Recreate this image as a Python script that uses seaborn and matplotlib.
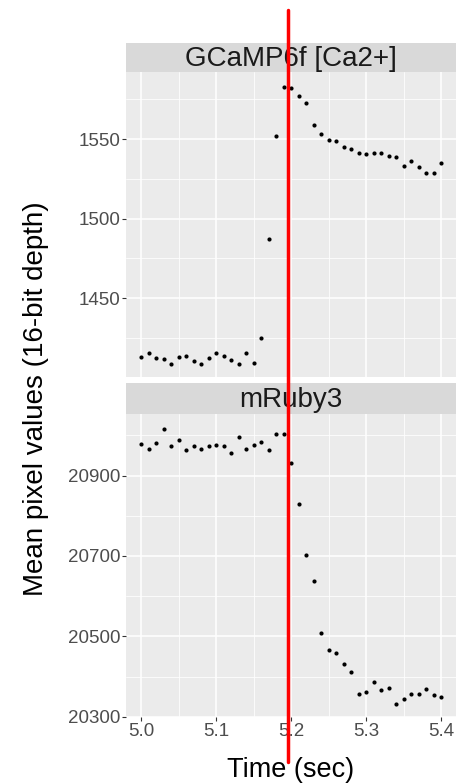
import numpy as np
import pandas as pd
import seaborn as sns
import matplotlib.pyplot as plt
import matplotlib.ticker as mticker
from matplotlib.lines import Line2D
from matplotlib.transforms import blended_transform_factory

# --- data ---
time_sec = [5.00, 5.01, 5.02, 5.03, 5.04, 5.05, 5.06, 5.07, 5.08, 5.09,
            5.10, 5.11, 5.12, 5.13, 5.14, 5.15, 5.16, 5.17, 5.18, 5.19,
            5.20, 5.21, 5.22, 5.23, 5.24, 5.25, 5.26, 5.27, 5.28, 5.29,
            5.30, 5.31, 5.32, 5.33, 5.34, 5.35, 5.36, 5.37, 5.38, 5.39, 5.40]

gcamp = [1413.1, 1415.6, 1412.2, 1411.6, 1408.9, 1413.1, 1413.7, 1410.4, 1408.9, 1412.2,
         1415.6, 1413.9, 1411.4, 1408.9, 1415.6, 1409.5, 1425.3, 1487.5, 1552.1, 1582.9,
         1581.9, 1577.0, 1572.6, 1558.8, 1553.3, 1549.4, 1548.9, 1544.8, 1543.7, 1541.2,
         1540.4, 1541.2, 1541.2, 1539.5, 1538.5, 1532.8, 1536.2, 1532.2, 1528.8, 1528.4, 1535.1]

mruby = [20977.8, 20966.2, 20981.8, 21016.5, 20972.9, 20989.2, 20964.5, 20974.4, 20966.2, 20972.9,
         20976.1, 20974.4, 20955.5, 20995.2, 20966.2, 20976.1, 20984.3, 20963.0, 21004.1, 21004.1,
         20932.2, 20828.1, 20703.4, 20636.5, 20509.3, 20465.4, 20458.7, 20431.5, 20410.9, 20355.6,
         20362.1, 20385.4, 20367.0, 20370.5, 20332.3, 20344.0, 20355.6, 20355.6, 20368.7, 20353.9, 20348.2]

panel_names = ["GCaMP6f [Ca2+]", "mRuby3"]
stim_time = 5.196

x_ticks = [5.0, 5.1, 5.2, 5.3, 5.4]
top_ticks = [1450, 1500, 1550]
bottom_ticks = [20300, 20500, 20700, 20900]

df = pd.DataFrame({
    "Time": time_sec * 2,
    "Value": gcamp + mruby,
    "Channel": [panel_names[0]] * len(gcamp) + [panel_names[1]] * len(mruby),
})

# --- styling ---
sns.set_theme(style="darkgrid")
plt.rcParams["font.family"] = ["Liberation Sans", "DejaVu Sans"]

W, H = 462, 783
fig = plt.figure(figsize=(W / 100, H / 100), dpi=100)

def frac(left, top, right, bottom):
    return [left / W, 1 - bottom / H, (right - left) / W, (bottom - top) / H]

panels = [
    dict(name=panel_names[0], box=(126, 72, 456.5, 377), strip=(126, 43, 456.5, 72),
         ylim=(1400.5, 1592.1), major=top_ticks, minor=25),
    dict(name=panel_names[1], box=(126, 414, 456.5, 717), strip=(126, 383, 456.5, 414),
         ylim=(20299.5, 21053), major=bottom_ticks, minor=100),
]

axes = []
for i, p in enumerate(panels):
    ax = fig.add_axes(frac(*p["box"]))
    sub = df[df["Channel"] == p["name"]]
    sns.scatterplot(data=sub, x="Time", y="Value", ax=ax, color="black",
                    s=9, linewidth=0, legend=False, zorder=3)
    ax.set_facecolor("#EBEBEB")
    ax.set_xlim(4.98, 5.42)
    ax.set_ylim(*p["ylim"])
    ax.xaxis.set_major_locator(mticker.FixedLocator(x_ticks))
    ax.xaxis.set_minor_locator(mticker.MultipleLocator(0.05))
    ax.yaxis.set_major_locator(mticker.FixedLocator(p["major"]))
    ax.yaxis.set_minor_locator(mticker.MultipleLocator(p["minor"]))
    ax.grid(which="major", color="white", linewidth=1.1)
    ax.grid(which="minor", color="white", linewidth=0.55)
    ax.set_axisbelow(True)
    for s in ax.spines.values():
        s.set_visible(False)
    ax.tick_params(axis="y", which="major", length=3, width=0.8, color="#333333",
                   labelsize=13.5, labelcolor="#4D4D4D", pad=1, left=True)
    ax.tick_params(which="minor", length=0)
    ax.set_xlabel("")
    ax.set_ylabel("")
    if i == 0:
        ax.tick_params(axis="x", which="major", length=0, labelbottom=False)
    else:
        ax.tick_params(axis="x", which="major", length=3, width=0.8, color="#333333",
                       labelsize=13.5, labelcolor="#4D4D4D", pad=1, bottom=True)
        ax.xaxis.set_major_formatter(mticker.FormatStrFormatter("%.1f"))

    # facet strip
    sax = fig.add_axes(frac(*p["strip"]))
    sax.set_facecolor("#D9D9D9")
    sax.set_xticks([])
    sax.set_yticks([])
    for s in sax.spines.values():
        s.set_visible(False)
    sax.text(0.5, 0.45, p["name"], ha="center", va="center", fontsize=20,
             color="#1A1A1A", transform=sax.transAxes)
    axes.append(ax)

fig.text(291 / W, 1 - 770 / H, "Time (sec)", ha="center", va="center",
         fontsize=19.5, color="black")
fig.text(36 / W, 1 - 399 / H, "Mean pixel values (16-bit depth)", ha="center",
         va="center", rotation=90, fontsize=20, color="black")

# red marker line crossing the whole figure
trans = blended_transform_factory(axes[1].transData, fig.transFigure)
fig.add_artist(Line2D([stim_time, stim_time], [1 - 762 / H, 1 - 10 / H],
                      transform=trans, color="#FF0000", linewidth=2.5, zorder=10))

fig.savefig("out.png", dpi=100)
